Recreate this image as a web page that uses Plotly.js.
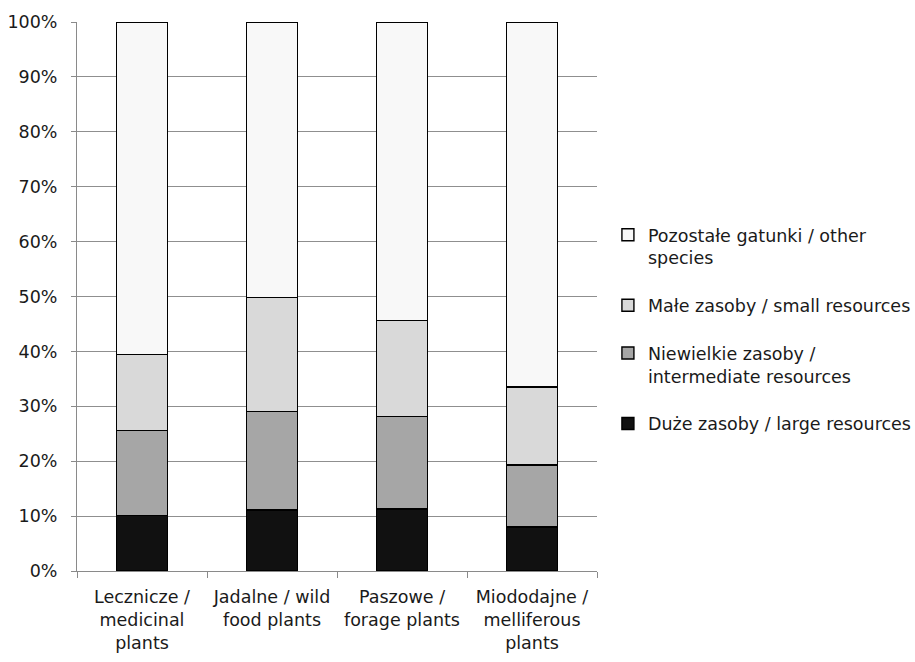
<!DOCTYPE html>
<html><head><meta charset="utf-8">
<script src="https://cdn.plot.ly/plotly-3.0.1.min.js"></script>
<style>html,body{margin:0;padding:0;background:#fff}</style>
</head><body>
<div id="chart" style="width:915px;height:662px"></div>
<script>
const categories = ["Lecznicze /<br>medicinal<br>plants", "Jadalne / wild<br>food plants", "Paszowe /<br>forage plants", "Miododajne /<br>melliferous<br>plants"];
const large = [10.1, 11.1, 11.3, 8.0];
const intermediate = [15.5, 17.9, 16.8, 11.3];
const small = [13.8, 20.8, 17.5, 14.2];
const other = [60.6, 50.2, 54.4, 66.5];
const seriesNames = ["Duże zasoby / large resources", "Niewielkie zasoby /<br>intermediate resources", "Małe zasoby / small resources", "Pozostałe gatunki / other<br>species"];
const seriesColors = ["#111111", "#a6a6a6", "#d9d9d9", "#f8f8f8"];
const seriesValues = [large, intermediate, small, other];
const yTicks = [0,10,20,30,40,50,60,70,80,90,100];
const yTickText = ["0%","10%","20%","30%","40%","50%","60%","70%","80%","90%","100%"];

const FONT = "'DejaVu Sans', sans-serif";
const FS = 17.5;
const traces = seriesValues.map((v, i) => ({
  type: "bar", x: categories, y: v, name: seriesNames[i],
  legendgroup: "g" + i, legendrank: 10 - i,
  marker: {color: seriesColors[i], line: {color: "#000", width: 1.4}},
  hoverinfo: "y"
}));

const layout = {
  barmode: "stack", bargap: 0.61,
  margin: {l: 77, r: 318, t: 22, b: 91, autoexpand: false},
  paper_bgcolor: "#fff", plot_bgcolor: "#fff",
  font: {family: FONT, size: FS, color: "#1a1a1a"},
  showlegend: true,
  legend: {x: 1.021, xanchor: "left", y: 0.44, yanchor: "middle",
    traceorder: "grouped", tracegroupgap: 22, valign: "top",
    font: {family: FONT, size: FS, color: "#1a1a1a"},
    itemwidth: 30, bgcolor: "rgba(0,0,0,0)"},
  xaxis: {type: "category", showline: true, linecolor: "#8a8a8a", linewidth: 1,
    ticks: "outside", tickson: "boundaries", ticklen: 6, tickcolor: "#8a8a8a",
    showgrid: false, ticklabelstandoff: 10, tickangle: 0, automargin: false,
    tickfont: {family: FONT, size: FS, color: "#1a1a1a"}},
  yaxis: {range: [0, 100], tickvals: yTicks, ticktext: yTickText,
    showline: true, linecolor: "#8a8a8a", linewidth: 1,
    ticks: "outside", ticklen: 5, tickcolor: "#8a8a8a",
    showgrid: true, gridcolor: "#8f8f8f", gridwidth: 1, zeroline: false,
    ticklabelstandoff: 10, automargin: false,
    tickfont: {family: FONT, size: FS, color: "#1a1a1a"}}
};
Plotly.newPlot("chart", traces, layout, {displayModeBar: false, staticPlot: true});
</script>
</body></html>
